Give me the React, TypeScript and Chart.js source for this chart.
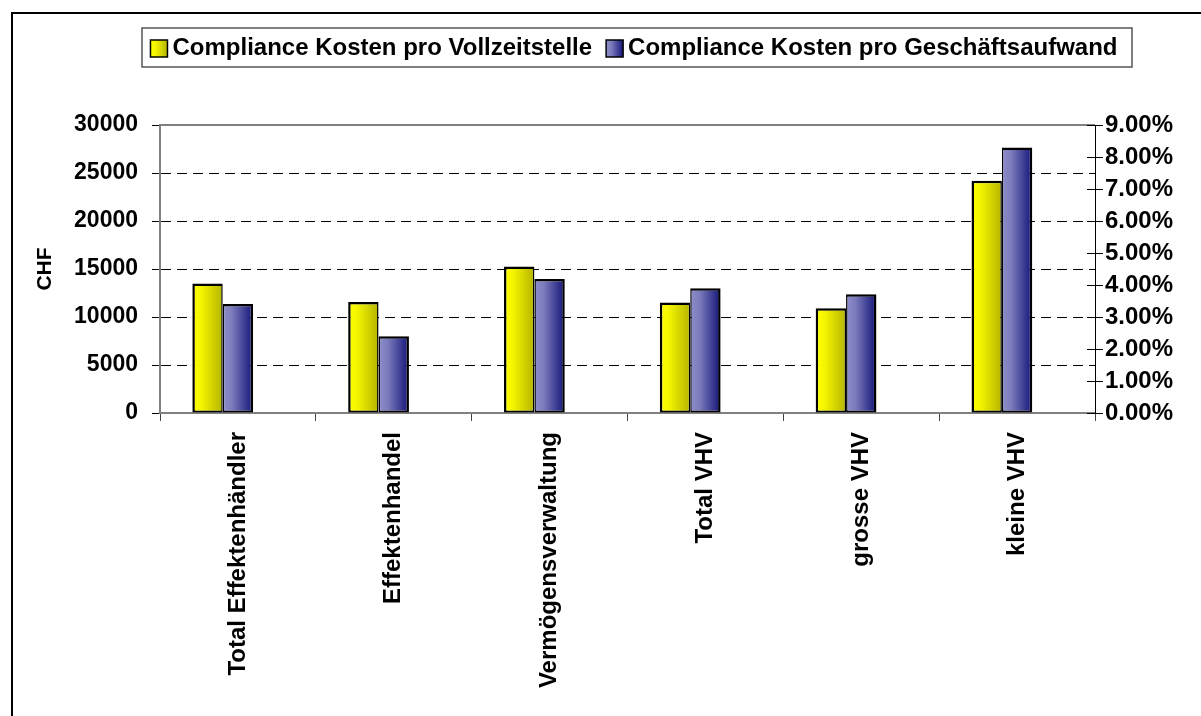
import React, { useEffect, useRef } from 'react';
import { Chart, registerables } from 'chart.js';

Chart.register(...registerables);

const categories = ['Total Effektenhändler', 'Effektenhandel', 'Vermögensverwaltung', 'Total VHV', 'grosse VHV', 'kleine VHV'];
const costPerFte = [13500, 11550, 15250, 11500, 10900, 24200];
const costPerExpensePct = [3.41, 2.40, 4.19, 3.90, 3.71, 8.30];
const seriesLabels = ['Compliance Kosten pro Vollzeitstelle', 'Compliance Kosten pro Geschäftsaufwand'];
const leftAxisTitle = 'CHF';
const leftMax = 30000;
const leftStep = 5000;
const rightMax = 9;
const rightStep = 1;

const FONT = "'Liberation Sans', Arial, sans-serif";
const CAT_PCT = 0.585;
const yellowStops: [number, string][] = [[0, '#FFFF00'], [0.3, '#F4F400'], [1, '#B4B400']];
const blueStops: [number, string][] = [[0, '#8E8ECC'], [0.3, '#7C7CBC'], [1, '#14147A']];

function gradientFill(stops: [number, string][], fallback: string) {
  return (ctx: any) => {
    const chart = ctx.chart;
    const xs = chart.scales && chart.scales.x;
    if (ctx.type !== 'data' || !xs || !chart.chartArea) return fallback;
    const n = chart.data.labels.length;
    const catW = (xs.right - xs.left) / n;
    const groupW = catW * CAT_PCT;
    const nSets = chart.data.datasets.length;
    const bw = groupW / nSets;
    const left = xs.getPixelForValue(ctx.dataIndex) - groupW / 2 + ctx.datasetIndex * bw;
    const g = chart.ctx.createLinearGradient(left, 0, left + bw, 0);
    stops.forEach(([o, c]) => g.addColorStop(o, c));
    return g;
  };
}

const decorPlugin = {
  id: 'decor',
  afterDraw(chart: any) {
    const { ctx, chartArea } = chart;
    ctx.save();
    // outer frame (top and left)
    ctx.strokeStyle = '#000';
    ctx.lineWidth = 2;
    ctx.beginPath();
    ctx.moveTo(12, 716);
    ctx.lineTo(12, 13);
    ctx.lineTo(1201, 13);
    ctx.stroke();

    // top border of plot area
    ctx.strokeStyle = '#808080';
    ctx.lineWidth = 2;
    ctx.beginPath();
    ctx.moveTo(chartArea.left, chartArea.top);
    ctx.lineTo(chartArea.right, chartArea.top);
    ctx.stroke();

    // inner half of right-axis tick marks
    const y1 = chart.scales.y1;
    ctx.strokeStyle = '#000';
    ctx.lineWidth = 1;
    y1.ticks.forEach((_t: any, i: number) => {
      const y = Math.round(y1.getPixelForTick(i)) + 0.5;
      ctx.beginPath();
      ctx.moveTo(chartArea.right - 8, y);
      ctx.lineTo(chartArea.right, y);
      ctx.stroke();
    });

    // legend
    const boxL = 142, boxT = 28, boxR = 1132, boxB = 67;
    ctx.strokeStyle = '#555';
    ctx.lineWidth = 1.5;
    ctx.strokeRect(boxL, boxT, boxR - boxL, boxB - boxT);
    ctx.font = `bold 24px ${FONT}`;
    ctx.textBaseline = 'middle';
    ctx.textAlign = 'left';
    const sq = 17, gap = 5, itemGap = 14;
    const widths = seriesLabels.map((l) => ctx.measureText(l).width);
    const total = widths.reduce((a, w) => a + sq + gap + w, 0) + itemGap * (seriesLabels.length - 1);
    let x = (boxL + boxR) / 2 - total / 2 - 3;
    const cy = (boxT + boxB) / 2 + 1;
    const stopsList = [yellowStops, blueStops];
    seriesLabels.forEach((label, i) => {
      const g = ctx.createLinearGradient(x, 0, x + sq, 0);
      stopsList[i].forEach(([o, c]) => g.addColorStop(o, c));
      ctx.fillStyle = g;
      ctx.fillRect(x, cy - sq / 2, sq, sq);
      ctx.strokeStyle = '#000';
      ctx.lineWidth = 1.5;
      ctx.strokeRect(x, cy - sq / 2, sq, sq);
      ctx.fillStyle = '#000';
      ctx.fillText(label, x + sq + gap, cy);
      x += sq + gap + widths[i] + itemGap;
    });
    ctx.restore();
  },
};

export default function App() {
  const ref = useRef<HTMLCanvasElement | null>(null);
  useEffect(() => {
    document.body.style.margin = '0';
    const canvas = ref.current!;
    const tickFont = { family: FONT, size: 23, weight: 'bold' as const };
    const catFont = { family: FONT, size: 24, weight: 'bold' as const };
    const rightFont = { family: FONT, size: 24, weight: 'bold' as const };
    const chart = new Chart(canvas, {
      type: 'bar',
      data: {
        labels: categories,
        datasets: [
          {
            label: seriesLabels[0],
            data: costPerFte,
            yAxisID: 'y',
            backgroundColor: gradientFill(yellowStops, '#FFFF00') as any,
            borderColor: '#000',
            borderWidth: { top: 2.5, left: 2.5, right: 1.5, bottom: 2 } as any,
            borderSkipped: false,
          },
          {
            label: seriesLabels[1],
            data: costPerExpensePct,
            yAxisID: 'y1',
            backgroundColor: gradientFill(blueStops, '#6666AA') as any,
            borderColor: '#000',
            borderWidth: { top: 2.5, left: 1.5, right: 2.5, bottom: 2 } as any,
            borderSkipped: false,
          },
          {
            label: '',
            data: categories.map(() => null),
            yAxisID: 'y',
          },
        ],
      },
      options: {
        responsive: false,
        animation: false,
        devicePixelRatio: 1,
        layout: { padding: { top: 125, left: 0, right: 0, bottom: 0 } },
        datasets: { bar: { categoryPercentage: CAT_PCT, barPercentage: 1 } },
        plugins: { legend: { display: false }, tooltip: { enabled: false }, title: { display: false } },
        scales: {
          x: {
            grid: { drawOnChartArea: false, drawTicks: true, tickLength: 8, tickColor: '#444', tickWidth: 1, offset: true },
            border: { display: true, color: '#808080', width: 2 },
            ticks: { autoSkip: false, minRotation: 90, maxRotation: 90, padding: 11, color: '#000', font: catFont },
            afterFit: (s: any) => { s.height = 303; },
          },
          y: {
            position: 'left',
            min: 0,
            max: leftMax,
            ticks: { stepSize: leftStep, padding: 14, color: '#000', font: tickFont, callback: (v: any) => String(v) },
            grid: {
              drawOnChartArea: true,
              drawTicks: true,
              tickLength: 8,
              tickColor: '#000',
              tickWidth: 1,
              lineWidth: 1,
              color: (c: any) => (c.tick && (c.tick.value === 0 || c.tick.value === leftMax) ? 'rgba(0,0,0,0)' : '#000'),
            },
            border: { display: true, color: '#808080', width: 2, dash: [10, 6] },
            title: { display: true, text: leftAxisTitle, color: '#000', font: { family: FONT, size: 21, weight: 'bold' }, padding: { top: 33, bottom: 0 } },
            afterFit: (s: any) => { s.width = 160; },
          },
          y1: {
            position: 'right',
            min: 0,
            max: rightMax,
            ticks: { stepSize: rightStep, padding: 2, color: '#000', font: rightFont, callback: (v: any) => Number(v).toFixed(2) + '%' },
            grid: { drawOnChartArea: false, drawTicks: true, tickLength: 8, tickColor: '#000', tickWidth: 1 },
            border: { display: true, color: '#000', width: 1 },
            afterFit: (s: any) => { s.width = 106; },
          },
        },
      },
      plugins: [decorPlugin],
    });
    return () => chart.destroy();
  }, []);
  return <canvas ref={ref} width={1201} height={716} style={{ display: 'block' }} />;
}
